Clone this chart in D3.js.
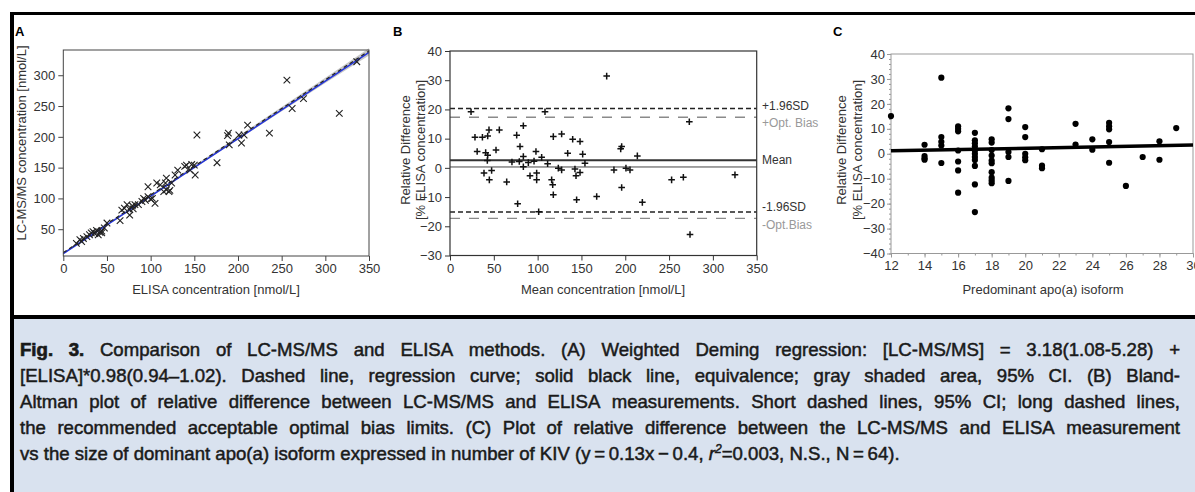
<!DOCTYPE html>
<html>
<head>
<meta charset="utf-8">
<script src="https://cdn.jsdelivr.net/npm/d3@7"></script>
<style>
body { margin: 0; background: #fff; }
svg { display: block; }
</style>
</head>
<body>
<svg width="1195" height="492"></svg>
<script>
// ---- panel A: LC-MS/MS vs ELISA ----
var elisaA = [15,19,21,23,27,30,32,34,36,38,40,42,44,47,50,65,67,70,73,76,76,79,82,86,90,92,94,97,97,100,
              105,107,111,115,117,118,118,121,124,128,131,139,141,145,147,150,151,153,176,188,189,190,201,204,
              207,211,236,256,262,275,316,336,102,122,44,80];
var lcmsA  = [27,33,30,35,38,41,44,46,43,48,41,45,47,52,60,64,81,84,90,73,82,88,90,90,95,100,97,103,119,99,
              92,125,122,111,125,114,133,111,125,138,146,152,154,146,155,154,138,203,158,202,206,187,203,190,
              203,219,206,292,246,262,238,322,100,113,44,83];
var regX = [0, 350], regY = [12, 339.5];        // dashed regression
var equivY = [10.5, 337];                       // solid line
var ciX  = [0, 100, 200, 300, 350];
var ciLo = [9.5, 102.5, 195.5, 287.5, 332];
var ciHi = [12.5, 106, 201, 296, 344];
var ticksAx = [0, 50, 100, 150, 200, 250, 300, 350];
var ticksAy = [50, 100, 150, 200, 250, 300];

// ---- panel B: Bland-Altman ----
var meanB = [24,28.5,31,37,43,44.5,40.7,43,42.6,38.8,44.9,47.5,52.5,56.3,64.7,70.7,76.1,77.2,79.9,79.1,83.7,83.7,
             83.7,89.4,91.3,95.9,98.1,98.9,98.9,101.2,104.6,108.4,111.4,116,117.2,117.9,117.9,123.6,127.4,127.4,
             134.3,140,142.6,143.8,148.4,148.4,144.5,151.4,154,167.4,178.8,187.1,194.8,195.9,195.9,200.8,205.4,
             213.8,219.5,252.9,266.3,273.1,273.9,325.2];
var diffB = [19.2,10.5,5.6,10.5,10.9,13,5.2,4.3,2.5,-1.8,-4.1,-0.9,6.1,13,-4.8,2,11.2,-12.3,7.3,2.2,3.9,14.4,
             0.4,1.8,-2.7,2.3,5.6,-1.8,-4.1,-15,3.6,19.2,1.4,-4.1,-5.8,10.7,-9.2,-0.1,11.6,-0.7,
             5,9.8,-0.4,-2.7,9,-1.6,-10.9,4.7,1.6,-9.8,31.4,-0.7,6.5,7.3,-6.7,-0.1,-0.7,
             4.1,-11.8,-4.1,-3.2,15.8,-22.8,-2.4];
var sdUpper = 20.3, sdLower = -15.1, biasMean = 2.6, zeroLine = 0.3, optBias = 17.3;
var ticksBx = [0, 50, 100, 150, 200, 250, 300, 350];
var ticksBy = [-30, -20, -10, 0, 10, 20, 30, 40];
var refLabels = ['+1.96SD', '+Opt. Bias', 'Mean', '-1.96SD', '-Opt.Bias'];

// ---- panel C: difference vs isoform ----
var isoC  = [12,14,14,14,14,15,15,15,15,15,16,16,16,16,16,16,16,
             17,17,17,17,17,17,17,17,17,17,17,18,18,18,18,18,18,18,18,18,18,
             19,19,19,19,19,20,20,20,20,20,21,21,21,23,23,24,24,25,25,25,25,25,26,27,28,28,29];
var diffC = [15.1,3.6,-0.9,-2.4,-1.8,30.5,6.7,4.8,3.3,-3.7,11,10,9,1.3,-3.1,-6.7,-15.6,
             8.4,5.4,4.2,2.9,1.3,0,-1.3,-2.5,-4.9,-12.3,-23.4,5.8,4.5,1.5,-0.7,-2.7,-3.8,-7.4,-9.6,-10.7,-11.8,
             18.2,13.9,0.7,-1.3,-10.9,10.7,6.7,0,-1.4,-2.6,1.8,-4.8,-5.8,12,3.7,5.8,1.6,12.4,11,9.8,4.7,-3.6,-12.9,-1.3,5,-2.4,10.3];
var fitCx = [12, 30], fitCy = [1.16, 3.5];
var ticksCx = [12, 14, 16, 18, 20, 22, 24, 26, 28, 30];
var ticksCy = [-40, -30, -20, -10, 0, 10, 20, 30, 40];

// ---- caption ----
var captionLines = [
  'Fig. 3. Comparison of LC-MS/MS and ELISA methods. (A) Weighted Deming regression: [LC-MS/MS] = 3.18(1.08-5.28) +',
  '[ELISA]*0.98(0.94\u20131.02). Dashed line, regression curve; solid black line, equivalence; gray shaded area, 95% CI. (B) Bland-',
  'Altman plot of relative difference between LC-MS/MS and ELISA measurements. Short dashed lines, 95% CI; long dashed lines,',
  'the recommended acceptable optimal bias limits. (C) Plot of relative difference between the LC-MS/MS and ELISA measurement'
];
var captionLast = 'vs the size of dominant apo(a) isoform expressed in number of KIV (y\u2009=\u20090.13x\u2009\u2212\u20090.4, ';

var tickFont = "'Liberation Sans', Arial, sans-serif";
var capFont = "'Liberation Sans', Arial, sans-serif";

var svg = d3.select('svg');

svg.append('rect').attr('width', 1195).attr('height', 492).attr('fill', '#fff');
svg.append('rect').attr('x', 12).attr('y', 317).attr('width', 1183).attr('height', 175).attr('fill', '#d9e2ef');
svg.append('line').attr('x1', 10).attr('x2', 1195).attr('y1', 13.5).attr('y2', 13.5)
    .attr('stroke', '#000').attr('stroke-width', 3);
svg.append('line').attr('x1', 12).attr('x2', 12).attr('y1', 12).attr('y2', 492)
    .attr('stroke', '#000').attr('stroke-width', 4);
svg.append('line').attr('x1', 10).attr('x2', 1195).attr('y1', 317).attr('y2', 317)
    .attr('stroke', '#000').attr('stroke-width', 4);

function styleAxis(g, color) {
    g.select('.domain').remove();
    g.selectAll('.tick line').attr('stroke', color);
    g.selectAll('.tick text').attr('fill', '#333')
        .style('font-size', '13px').style('font-family', tickFont);
}

function panelLabel(txt, x, y) {
    svg.append('text').attr('x', x).attr('y', y).text(txt)
        .style('font-family', tickFont).style('font-weight', 'bold').style('font-size', '13px');
}

function vTitle(lines, cx, cy, gap) {
    lines.forEach(function(t, i) {
        svg.append('text')
            .attr('transform', 'translate(' + (cx + i * gap) + ',' + cy + ') rotate(-90)')
            .attr('text-anchor', 'middle').attr('dy', '0.35em')
            .attr('fill', '#333').style('font-family', tickFont).style('font-size', '13px')
            .text(t);
    });
}

function hTitle(t, cx, y) {
    svg.append('text').attr('x', cx).attr('y', y).attr('text-anchor', 'middle')
        .attr('fill', '#333').style('font-family', tickFont).style('font-size', '13px').text(t);
}

// ================= A =================
var xA = d3.scaleLinear().domain([0, 350]).range([63.3, 369]);
var yA = d3.scaleLinear().domain([6.5, 341]).range([256, 50]);

var ciData = ciX.map(function(d, i) { return { x: d, lo: ciLo[i], hi: ciHi[i] }; });
svg.append('path').datum(ciData)
    .attr('d', d3.area().x(function(d) { return xA(d.x); })
        .y0(function(d) { return yA(d.lo); }).y1(function(d) { return yA(d.hi); }))
    .attr('fill', '#c8c8c8');

var lineA = d3.line().x(function(d) { return xA(d[0]); }).y(function(d) { return yA(d[1]); });
svg.append('path').datum(regX.map(function(d, i) { return [d, equivY[i]]; }))
    .attr('d', lineA).attr('stroke', '#2233dd').attr('stroke-width', 1.5).attr('fill', 'none');
svg.append('path').datum(regX.map(function(d, i) { return [d, regY[i]]; }))
    .attr('d', lineA).attr('stroke', '#222').attr('stroke-width', 1.2)
    .attr('stroke-dasharray', '4,3').attr('fill', 'none');

svg.append('g').selectAll('path.mk')
    .data(elisaA.map(function(d, i) { return [d, lcmsA[i]]; }))
    .enter().append('path')
    .attr('transform', function(d) { return 'translate(' + xA(d[0]) + ',' + yA(d[1]) + ')'; })
    .attr('d', 'M-3.3,-3.3L3.3,3.3M-3.3,3.3L3.3,-3.3')
    .attr('stroke', '#222').attr('stroke-width', 1.1).attr('fill', 'none');

svg.append('rect').attr('x', 63.3).attr('y', 50).attr('width', 369 - 63.3).attr('height', 206)
    .attr('fill', 'none').attr('stroke', '#444').attr('stroke-width', 1);

svg.append('g').attr('transform', 'translate(0,256)')
    .call(d3.axisBottom(xA).tickValues(ticksAx).tickSize(5).tickPadding(3))
    .call(styleAxis, '#444');
svg.append('g').attr('transform', 'translate(63.3,0)')
    .call(d3.axisLeft(yA).tickValues(ticksAy).tickSize(5).tickPadding(3))
    .call(styleAxis, '#444');

panelLabel('A', 15, 36);
vTitle(['LC-MS/MS concentration [nmol/L]'], 21.5, 143, 0);
hTitle('ELISA concentration [nmol/L]', 216, 294);

// ================= B =================
var xB = d3.scaleLinear().domain([0, 350]).range([450, 756.7]);
var yB = d3.scaleLinear().domain([-30, 40]).range([255.5, 51]);

function hLine(v, color, w, dash) {
    svg.append('line').attr('x1', 450).attr('x2', 756.7)
        .attr('y1', yB(v)).attr('y2', yB(v))
        .attr('stroke', color).attr('stroke-width', w)
        .attr('stroke-dasharray', dash);
}
hLine(sdUpper, '#222', 1.6, '5,3');
hLine(optBias, '#8a8a8a', 1.4, '10,9');
hLine(biasMean, '#333', 2, null);
hLine(zeroLine, '#444', 1, null);
hLine(sdLower, '#222', 1.6, '5,3');
hLine(-optBias, '#8a8a8a', 1.4, '10,9');

svg.append('g').selectAll('path.mk')
    .data(meanB.map(function(d, i) { return [d, diffB[i]]; }))
    .enter().append('path')
    .attr('transform', function(d) { return 'translate(' + xB(d[0]) + ',' + yB(d[1]) + ')'; })
    .attr('d', 'M-3.3,0H3.3M0,-3.3V3.3')
    .attr('stroke', '#111').attr('stroke-width', 1.5).attr('fill', 'none');

svg.append('rect').attr('x', 450).attr('y', 51).attr('width', 306.7).attr('height', 204.5)
    .attr('fill', 'none').attr('stroke', '#333').attr('stroke-width', 1.2);

svg.append('g').attr('transform', 'translate(0,255.5)')
    .call(d3.axisBottom(xB).tickValues(ticksBx).tickSize(5).tickPadding(3))
    .call(styleAxis, '#333');
svg.append('g').attr('transform', 'translate(450,0)')
    .call(d3.axisLeft(yB).tickValues(ticksBy).tickSize(5).tickPadding(3))
    .call(styleAxis, '#333');

var labelVals = [sdUpper, optBias, biasMean, sdLower, -optBias];
var labelOff = [-3, 5, 0, -5, 6];
var labelCol = ['#333', '#999', '#333', '#333', '#999'];
refLabels.forEach(function(t, i) {
    svg.append('text').attr('x', 762).attr('y', yB(labelVals[i]) + labelOff[i])
        .attr('dy', '0.35em').attr('fill', labelCol[i])
        .style('font-family', tickFont).style('font-size', '12px').text(t);
});

panelLabel('B', 393, 36);
vTitle(['Relative Difference', '[% ELISA concentration]'], 405, 150, 15);
hTitle('Mean concentration [nmol/L]', 603, 294);

// ================= C =================
var xC = d3.scaleLinear().domain([12, 30]).range([891, 1193]);
var yC = d3.scaleLinear().domain([-40, 40]).range([253.5, 54]);

svg.append('rect').attr('x', 891).attr('y', 54).attr('width', 302).attr('height', 199.5)
    .attr('fill', 'none').attr('stroke', '#999').attr('stroke-width', 1);

svg.append('g').attr('transform', 'translate(0,253.5)')
    .call(d3.axisBottom(xC).tickValues(d3.range(12, 31, 1)).tickSize(2).tickFormat(''))
    .call(styleAxis, '#999');
svg.append('g').attr('transform', 'translate(891,0)')
    .call(d3.axisLeft(yC).tickValues(d3.range(-40, 41, 2)).tickSize(2).tickFormat(''))
    .call(styleAxis, '#999');
svg.append('g').attr('transform', 'translate(0,253.5)')
    .call(d3.axisBottom(xC).tickValues(ticksCx).tickSize(4).tickPadding(3))
    .call(styleAxis, '#999');
svg.append('g').attr('transform', 'translate(891,0)')
    .call(d3.axisLeft(yC).tickValues(ticksCy).tickSize(4).tickPadding(2))
    .call(styleAxis, '#999');

svg.append('path').datum(fitCx.map(function(d, i) { return [d, fitCy[i]]; }))
    .attr('d', d3.line().x(function(d) { return xC(d[0]); }).y(function(d) { return yC(d[1]); }))
    .attr('stroke', '#000').attr('stroke-width', 3.5).attr('fill', 'none');

svg.append('g').selectAll('circle')
    .data(isoC.map(function(d, i) { return [d, diffC[i]]; }))
    .enter().append('circle')
    .attr('cx', function(d) { return xC(d[0]); })
    .attr('cy', function(d) { return yC(d[1]); })
    .attr('r', 3.1)
    .attr('fill', '#000');

panelLabel('C', 833, 36);
vTitle(['Relative Difference', '[% ELISA concentration]'], 841, 150, 16);
hTitle('Predominant apo(a) isoform', 1043, 294);

// ================= caption =================
// full-height type, squeezed sideways just enough for the longest line to fit
var capSize = 18.6, capY0 = 355.5, capDy = 26.2;
var cap = svg.append('g').attr('fill', '#1a1a1a')
    .style('font-family', capFont).style('font-size', capSize + 'px');

var maxNat = 0;
captionLines.forEach(function(line) {
    var t = cap.append('text').text(line);
    maxNat = Math.max(maxNat, t.node().getComputedTextLength());
    t.remove();
});
var sx = Math.min(1, 1160 * 0.985 / maxNat);
cap.attr('transform', 'scale(' + sx + ',1)');
var capX0 = 20 / sx, capX1 = 1180 / sx;

function wordText(w, y) {
    return cap.append('text').attr('y', y).text(w)
        .attr('stroke', '#1a1a1a').attr('stroke-width', 0.5);
}

captionLines.forEach(function(line, li) {
    var y = capY0 + li * capDy;
    var words = line.split(' ');
    var nodes = words.map(function(w, wi) {
        var t = wordText(w, y);
        if (li === 0 && wi < 2) t.style('font-weight', 'bold').attr('stroke-width', 0.7);
        return t;
    });
    var widths = nodes.map(function(n) { return n.node().getComputedTextLength(); });
    var gap = (capX1 - capX0 - d3.sum(widths)) / (words.length - 1);
    var x = capX0;
    nodes.forEach(function(n, i) { n.attr('x', x); x += widths[i] + gap; });
});

var last = cap.append('text').attr('x', capX0).attr('y', capY0 + 4 * capDy)
    .attr('stroke', '#1a1a1a').attr('stroke-width', 0.5);
last.append('tspan').text(captionLast);
last.append('tspan').style('font-style', 'italic').text('r');
last.append('tspan').style('font-style', 'italic').style('font-size', (capSize * 0.65) + 'px')
    .attr('dy', -7).text('2');
last.append('tspan').attr('dy', 7).text('=0.003, N.S., N\u2009=\u200964).');
</script>
</body>
</html>
